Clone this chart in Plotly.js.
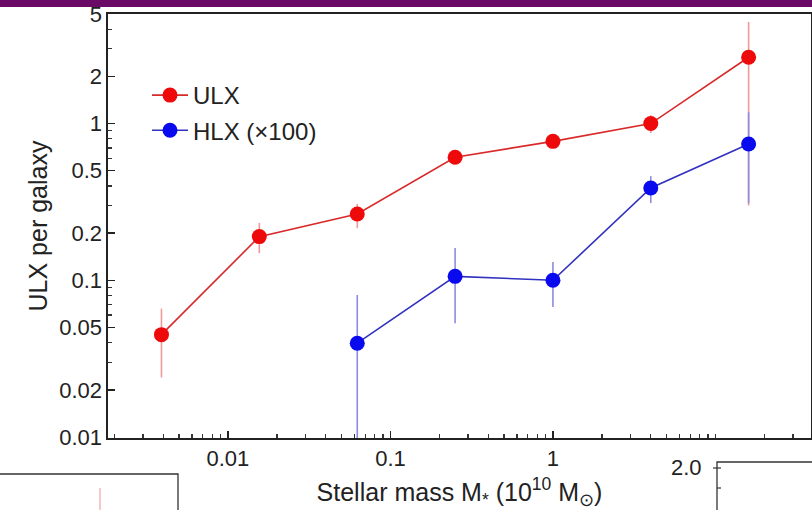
<!DOCTYPE html>
<html>
<head>
<meta charset="utf-8">
<script src="https://cdn.plot.ly/plotly-3.0.1.min.js"></script>
<style>
  html, body { margin: 0; padding: 0; background: #ffffff; }
  #chart { width: 812px; height: 510px; }
</style>
</head>
<body>
<div id="chart"></div>
<script>
// Stellar-mass bins (units of 1e10 solar masses)
const massUlx = [0.0039, 0.0156, 0.0625, 0.25, 1, 4, 16];
const massHlx = [0.0625, 0.25, 1, 4, 16];

// ULX per galaxy, with upper / lower error bounds
const ulxRate  = [0.045, 0.19, 0.265, 0.61, 0.77, 1.0, 2.65];
const ulxUpper = [0.066, 0.232, 0.307, 0.65, 0.82, 1.13, 4.45];
const ulxLower = [0.024, 0.149, 0.215, 0.57, 0.72, 0.87, 0.30];

// HLX per galaxy (scaled x100), with upper / lower error bounds
const hlxRate  = [0.0397, 0.106, 0.100, 0.388, 0.74];
const hlxUpper = [0.0805, 0.161, 0.131, 0.462, 1.18];
const hlxLower = [0, 0.0533, 0.0675, 0.311, 0.31];

// Axis tick labels
const xTickVals = [0.01, 0.1, 1];
const xTickText = ['0.01', '0.1', '1'];
const yTickVals = [0.01, 0.02, 0.05, 0.1, 0.2, 0.5, 1, 2, 5];
const yTickText = ['0.01', '0.02', '0.05', '0.1', '0.2', '0.5', '1', '2', '5'];

const up = (v, hi) => v.map((y, i) => hi[i] - y);
const dn = (v, lo) => v.map((y, i) => y - lo[i]);

const FONT = 'Liberation Sans, Arial, sans-serif';
const INK = '#222222';
const W = 812, H = 510;
const M = { l: 108, r: 1, t: 14, b: 72 };
const PW = W - M.l - M.r, PH = H - M.t - M.b;
// convert page pixels to paper coordinates for the decorative frame pieces
const px = x => (x - M.l) / PW;
const py = y => 1 - (y - M.t) / PH;

const traces = [
  {
    name: 'ULX', legendgroup: 'a',
    x: massUlx, y: ulxRate, type: 'scatter', mode: 'lines+markers',
    line: { color: '#d82a2a', width: 1.6 },
    marker: { color: '#ee0a0a', size: 15 },
    error_y: { type: 'data', symmetric: false, array: up(ulxRate, ulxUpper),
               arrayminus: dn(ulxRate, ulxLower), color: '#ec9a9a', thickness: 1.6, width: 0 }
  },
  {
    name: 'HLX (\u00d7100)', legendgroup: 'b',
    x: massHlx, y: hlxRate, type: 'scatter', mode: 'lines+markers',
    line: { color: '#3232c0', width: 1.6 },
    marker: { color: '#0a0aee', size: 15 },
    error_y: { type: 'data', symmetric: false, array: up(hlxRate, hlxUpper),
               arrayminus: dn(hlxRate, hlxLower), color: '#8c8ce0', thickness: 1.6, width: 0 }
  }
];

const layout = {
  width: W, height: H,
  margin: M,
  paper_bgcolor: '#ffffff', plot_bgcolor: '#ffffff',
  font: { family: FONT, color: INK, size: 22 },
  showlegend: true,
  legend: {
    x: px(147), y: py(73), xanchor: 'left', yanchor: 'top',
    bgcolor: 'rgba(0,0,0,0)', font: { size: 24, color: INK },
    tracegroupgap: 1, itemwidth: 36
  },
  xaxis: {
    type: 'log', range: [-2.738, 1.588],
    tickmode: 'array', tickvals: xTickVals, ticktext: xTickText,
    ticks: 'inside', ticklen: 7, tickwidth: 1.3, tickcolor: INK,
    minor: { ticks: 'inside', ticklen: 4, tickcolor: '#333', dtick: 'D1' },
    showline: true, linecolor: INK, linewidth: 1.6, mirror: true,
    showgrid: false, zeroline: false,
    tickfont: { size: 22, color: INK },
    title: { text: 'Stellar mass M<sub>*</sub> (10<sup>10</sup> M<sub>\u2299</sub>)',
             font: { size: 25, color: INK } }
  },
  yaxis: {
    type: 'log', range: [-2.006, 0.699],
    tickmode: 'array', tickvals: yTickVals, ticktext: yTickText,
    ticks: 'inside', ticklen: 7, tickwidth: 1.3, tickcolor: INK,
    minor: { ticks: 'inside', ticklen: 4, tickcolor: '#333', dtick: 'D1' },
    showline: true, linecolor: INK, linewidth: 1.6, mirror: true,
    showgrid: false, zeroline: false,
    tickfont: { size: 22, color: INK },
    title: { text: 'ULX per galaxy', font: { size: 25, color: INK } }
  },
  shapes: [
    // slide header band
    { type: 'rect', xref: 'paper', yref: 'paper', x0: px(0), x1: px(W), y0: py(0), y1: py(7),
      fillcolor: '#6a0a66', line: { width: 0 }, layer: 'above' },
    // neighbouring panel frames along the bottom edge
    { type: 'rect', xref: 'paper', yref: 'paper', x0: px(-5), x1: px(178), y0: py(515), y1: py(474),
      fillcolor: '#ffffff', line: { color: '#333', width: 1.3 }, layer: 'above' },
    { type: 'line', xref: 'paper', yref: 'paper', x0: px(100), x1: px(100), y0: py(510), y1: py(488),
      line: { color: '#f2b8b8', width: 1.5 }, layer: 'above' },
    { type: 'rect', xref: 'paper', yref: 'paper', x0: px(717), x1: px(820), y0: py(515), y1: py(462),
      fillcolor: '#ffffff', line: { color: '#333', width: 1.3 }, layer: 'above' },
    { type: 'line', xref: 'paper', yref: 'paper', x0: px(713), x1: px(721), y0: py(468), y1: py(468),
      line: { color: '#333', width: 1.2 }, layer: 'above' },
    { type: 'line', xref: 'paper', yref: 'paper', x0: px(717), x1: px(721), y0: py(488), y1: py(488),
      line: { color: '#333', width: 1.2 }, layer: 'above' }
  ],
  annotations: [
    { xref: 'paper', yref: 'paper', x: px(704), y: py(468), xanchor: 'right', yanchor: 'middle',
      text: '2.0', showarrow: false, font: { size: 22, color: INK } }
  ]
};

Plotly.newPlot('chart', traces, layout, { staticPlot: true, displayModeBar: false });
</script>
</body>
</html>
